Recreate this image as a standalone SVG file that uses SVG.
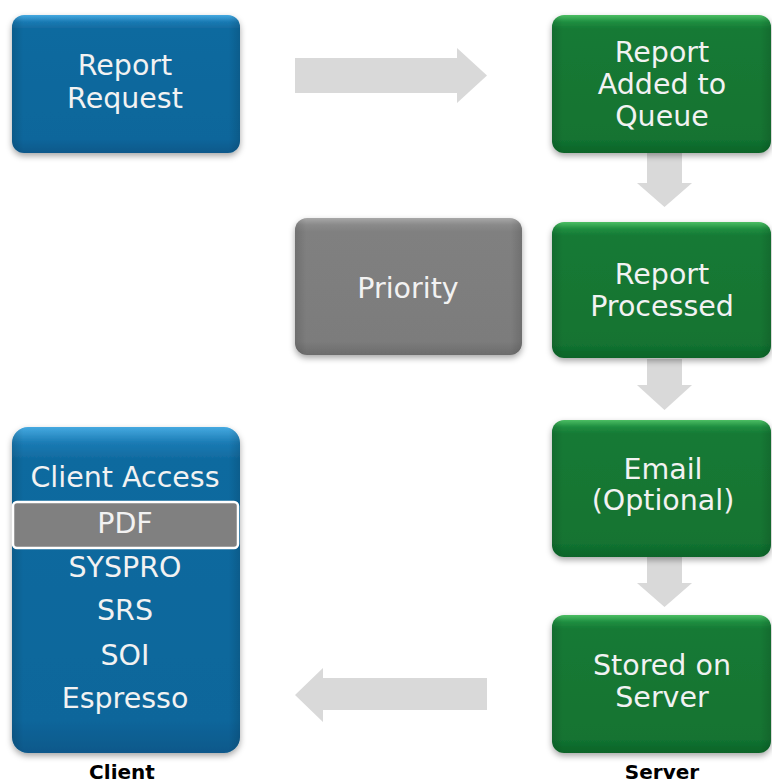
<svg xmlns="http://www.w3.org/2000/svg" width="772" height="784" viewBox="0 0 772 784">
<defs>
<linearGradient id="gBlue" x1="0" y1="0" x2="0" y2="1">
<stop offset="0" stop-color="#45a9e0"/>
<stop offset="0.05" stop-color="#1a7ab3"/>
<stop offset="0.1" stop-color="#106a9f"/>
<stop offset="0.9" stop-color="#0c669b"/>
<stop offset="1" stop-color="#09588a"/>
</linearGradient>
<linearGradient id="gGreen" x1="0" y1="0" x2="0" y2="1">
<stop offset="0" stop-color="#4cbe64"/>
<stop offset="0.05" stop-color="#1e8e40"/>
<stop offset="0.1" stop-color="#167a35"/>
<stop offset="0.9" stop-color="#127331"/>
<stop offset="1" stop-color="#0e6428"/>
</linearGradient>
<linearGradient id="gGray" x1="0" y1="0" x2="0" y2="1">
<stop offset="0" stop-color="#a8a8a8"/>
<stop offset="0.05" stop-color="#8a8a8a"/>
<stop offset="0.1" stop-color="#808080"/>
<stop offset="0.9" stop-color="#7c7c7c"/>
<stop offset="1" stop-color="#6c6c6c"/>
</linearGradient>
<linearGradient id="gSide" x1="0" y1="0" x2="1" y2="0">
<stop offset="0" stop-color="#000" stop-opacity="0.12"/>
<stop offset="0.05" stop-color="#000" stop-opacity="0"/>
<stop offset="0.95" stop-color="#000" stop-opacity="0"/>
<stop offset="1" stop-color="#000" stop-opacity="0.12"/>
</linearGradient>
<filter id="shadow" x="-10%" y="-10%" width="120%" height="125%">
<feDropShadow dx="0" dy="3" stdDeviation="3" flood-color="#000" flood-opacity="0.35"/>
</filter>
</defs>
<style>
.box{filter:url(#shadow)}
.blue{fill:url(#gBlue)}
.green{fill:url(#gGreen)}
.gray{fill:url(#gGray)}
.side{fill:url(#gSide)}
.t{font-family:"DejaVu Sans",Verdana,sans-serif;font-size:28.5px;fill:#f2f2f2;text-anchor:middle}
.lbl{font-family:"DejaVu Sans",Verdana,sans-serif;font-size:20px;font-weight:bold;fill:#000;text-anchor:middle}
.arrow{fill:#d9d9d9}
</style>
<rect width="772" height="784" fill="#ffffff"/>

<g id="connectors">
<polygon class="arrow" points="295,58 457,58 457,48 487,75.5 457,103 457,93 295,93"/>
<polygon class="arrow" points="647,153 682,153 682,183 692,183 664.5,207 637,183 647,183"/>
<polygon class="arrow" points="647,359 682,359 682,385 692,385 664.5,410 637,385 647,385"/>
<polygon class="arrow" points="647,557 682,557 682,583 692,583 664.5,607 637,583 647,583"/>
<polygon class="arrow" points="487,678 487,710 323,710 323,722 295,695 323,668 323,678"/>
</g>

<g id="report-request">
<rect class="box blue" x="12" y="15" width="228" height="138" rx="12"/>
<rect class="side" x="12" y="15" width="228" height="138" rx="12"/>
<text class="t" x="125" y="75">Report</text>
<text class="t" x="125" y="108">Request</text>
</g>

<g id="report-added">
<rect class="box green" x="552" y="15" width="219" height="138" rx="12"/>
<rect class="side" x="552" y="15" width="219" height="138" rx="12"/>
<text class="t" x="662" y="62">Report</text>
<text class="t" x="662" y="94">Added to</text>
<text class="t" x="662" y="126">Queue</text>
</g>

<g id="priority">
<rect class="box gray" x="295" y="218" width="227" height="137" rx="12"/>
<rect class="side" x="295" y="218" width="227" height="137" rx="12"/>
<text class="t" x="408" y="298">Priority</text>
</g>

<g id="report-processed">
<rect class="box green" x="552" y="222" width="219" height="136" rx="12"/>
<rect class="side" x="552" y="222" width="219" height="136" rx="12"/>
<text class="t" x="662" y="284">Report</text>
<text class="t" x="662" y="316">Processed</text>
</g>

<g id="email">
<rect class="box green" x="552" y="420" width="219" height="137" rx="12"/>
<rect class="side" x="552" y="420" width="219" height="137" rx="12"/>
<text class="t" x="663" y="479">Email</text>
<text class="t" x="663" y="510">(Optional)</text>
</g>

<g id="stored-on-server">
<rect class="box green" x="552" y="615" width="219" height="138" rx="12"/>
<rect class="side" x="552" y="615" width="219" height="138" rx="12"/>
<text class="t" x="662" y="675">Stored on</text>
<text class="t" x="662" y="707">Server</text>
</g>

<g id="client-access">
<rect class="box blue" x="12" y="427" width="228" height="326" rx="16"/>
<rect class="side" x="12" y="427" width="228" height="326" rx="16"/>
<text class="t" x="125" y="487">Client Access</text>
<rect x="13" y="502" width="225" height="46" rx="4" fill="#808080" stroke="#ffffff" stroke-width="2.5"/>
<text class="t" x="125" y="533">PDF</text>
<text class="t" x="125" y="577">SYSPRO</text>
<text class="t" x="125" y="620">SRS</text>
<text class="t" x="125" y="665">SOI</text>
<text class="t" x="125" y="708">Espresso</text>
</g>

<g id="labels">
<text class="lbl" x="122" y="779">Client</text>
<text class="lbl" x="662" y="779">Server</text>
</g>
</svg>
